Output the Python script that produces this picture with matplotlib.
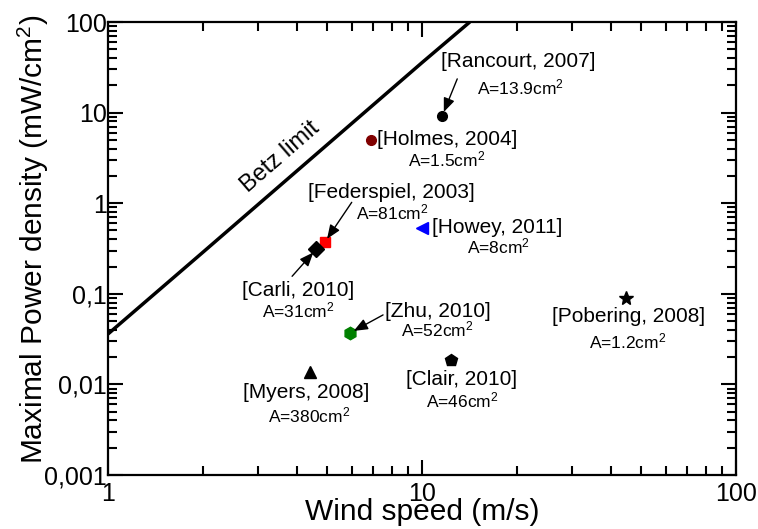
import matplotlib
matplotlib.use("Agg")
import matplotlib.pyplot as plt
from matplotlib.ticker import FixedLocator, FixedFormatter, LogLocator, NullFormatter

plt.rcParams["font.family"] = ["Liberation Sans", "DejaVu Sans"]
plt.rcParams["mathtext.fontset"] = "custom"
plt.rcParams["mathtext.rm"] = "Liberation Sans"
plt.rcParams["mathtext.default"] = "regular"

# Betz limit line (wind speed in m/s, power density in mW/cm2)
betz_speed = [1.0, 2.0, 5.0, 10.0, 14.2]
betz_power = [0.036, 0.285, 4.45, 35.6, 100.0]

# published harvesters
names = ["[Rancourt, 2007]", "[Holmes, 2004]", "[Federspiel, 2003]", "[Carli, 2010]",
         "[Howey, 2011]", "[Zhu, 2010]", "[Clair, 2010]", "[Myers, 2008]", "[Pobering, 2008]"]
areas = ["A=13.9cm$^2$", "A=1.5cm$^2$", "A=81cm$^2$", "A=31cm$^2$",
         "A=8cm$^2$", "A=52cm$^2$", "A=46cm$^2$", "A=380cm$^2$", "A=1.2cm$^2$"]
speed = [11.6, 6.9, 4.9, 4.6, 10.0, 5.9, 12.4, 4.4, 44.6]
power = [9.2, 5.0, 0.37, 0.31, 0.53, 0.037, 0.0186, 0.0137, 0.09]

yticks = [0.001, 0.01, 0.1, 1, 10, 100]
ytick_labels = ["0,001", "0,01", "0,1", "1", "10", "100"]
xticks = [1, 10, 100]
xtick_labels = ["1", "10", "100"]

# marker style, size, colour per point
styles = [("o", 7, "black"), ("o", 7, "#800000"), ("s", 7, "#ff0000"), ("D", 8, "black"),
          ("<", 9, "#0000ff"), ("h", 9, "#008000"), ("p", 9, "black"), ("^", 9, "black"),
          ("*", 10, "black")]
# label offsets in pixels: name, area, arrow tail (None = no arrow)
offsets = [((76, 54), (78, 28), (15, 37)),
           ((76, 0), (75, -20), None),
           ((67, 50), (68, 30), (27, 40)),
           ((-18, -41), (-18, -61), (-24, -27)),
           ((75, 1), (76, -18), None),
           ((88, 21), (87, 3), (33, 18)),
           ((10, -20), (11, -40), None),
           ((-4, -20), (-1, -43), None),
           ((3, -19), (2, -44), None)]

fig = plt.figure(figsize=(7.58, 5.29), dpi=100)
ax = fig.add_axes([108 / 758, 54 / 529, 628 / 758, 453 / 529])

ax.plot(betz_speed, betz_power, color="black", lw=2.5, solid_capstyle="butt")
ax.text(3.53, 3.24, "Betz limit", rotation=41, rotation_mode="anchor",
        ha="center", va="center", fontsize=17)

for i in range(len(names)):
    m, ms, c = styles[i]
    ax.plot(speed[i], power[i], marker=m, ms=ms, color=c, ls="none")
    n_off, a_off, arr = offsets[i]
    ax.annotate(names[i], (speed[i], power[i]), xytext=n_off, textcoords="offset pixels",
                ha="center", va="center", fontsize=15)
    ax.annotate(areas[i], (speed[i], power[i]), xytext=a_off, textcoords="offset pixels",
                ha="center", va="center", fontsize=12.5)
    if arr is not None:
        ax.annotate("", (speed[i], power[i]), xytext=arr, textcoords="offset pixels",
                    arrowprops=dict(arrowstyle="-|>,head_length=0.42,head_width=0.17",
                                    color="black", lw=1, mutation_scale=20,
                                    shrinkA=0, shrinkB=3))

ax.set_xscale("log")
ax.set_yscale("log")
ax.set_xlim(1, 100)
ax.set_ylim(0.001, 100)

ax.xaxis.set_major_locator(FixedLocator(xticks))
ax.xaxis.set_major_formatter(FixedFormatter(xtick_labels))
ax.yaxis.set_major_locator(FixedLocator(yticks))
ax.yaxis.set_major_formatter(FixedFormatter(ytick_labels))
ax.xaxis.set_minor_locator(LogLocator(base=10, subs=range(2, 10)))
ax.yaxis.set_minor_locator(LogLocator(base=10, subs=range(2, 10)))
ax.xaxis.set_minor_formatter(NullFormatter())
ax.yaxis.set_minor_formatter(NullFormatter())

ax.tick_params(which="both", direction="in", top=True, right=True, width=1.5, labelsize=18)
ax.tick_params(which="major", length=11)
ax.tick_params(which="minor", length=6.5)
ax.tick_params(axis="x", pad=5)
ax.tick_params(axis="y", pad=1)
for s in ax.spines.values():
    s.set_linewidth(1.6)

ax.set_xlabel("Wind speed (m/s)", fontsize=21.5, labelpad=-6)
ax.set_ylabel("Maximal Power density (mW/cm$^2$)", fontsize=21.5)
ax.yaxis.set_label_coords(-0.09, 0.52)

fig.savefig("out.png", dpi=100)
